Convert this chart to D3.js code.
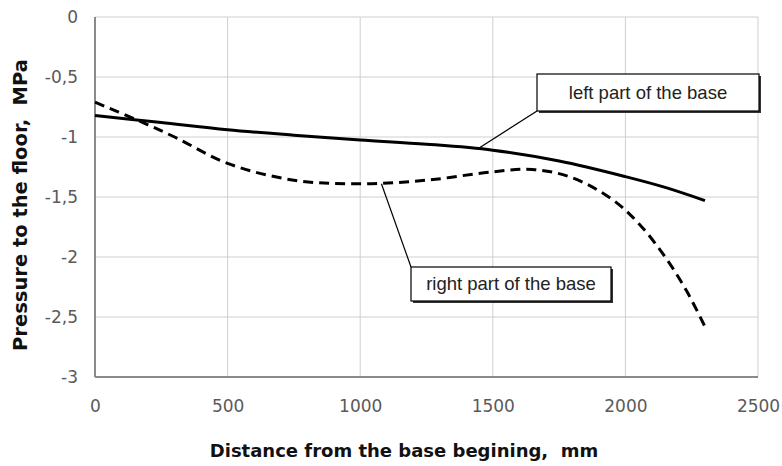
<!DOCTYPE html>
<html><head><meta charset="utf-8">
<script src="https://cdn.jsdelivr.net/npm/d3@7"></script>
<style>body{margin:0;background:#fff}svg{display:block}text{white-space:pre}</style>
</head><body><svg id="c" width="782" height="466"></svg>
<script>
const xTicks = [0, 500, 1000, 1500, 2000, 2500];
const yTicks = [0, -0.5, -1, -1.5, -2, -2.5, -3];
const leftX = [0, 250, 500, 750, 1000, 1250, 1500, 1750, 2000, 2150, 2300];
const leftY = [-0.82, -0.88, -0.94, -0.985, -1.025, -1.06, -1.11, -1.2, -1.33, -1.42, -1.53];
const rightX = [0, 150, 300, 500, 750, 1000, 1250, 1500, 1650, 1800, 1950, 2050, 2150, 2230, 2300];
const rightY = [-0.71, -0.85, -1.0, -1.22, -1.36, -1.39, -1.36, -1.29, -1.27, -1.34, -1.52, -1.72, -2.0, -2.28, -2.58];
const labelLeft = "left part of the base";
const labelRight = "right part of the base";
const xTitle = "Distance from the base begining,  mm";
const yTitle = "Pressure to the floor,  MPa";
const fmt = v => String(v).replace('.', ',');

const svg = d3.select('#c');
const x = d3.scaleLinear().domain([0, 2500]).range([95, 758]);
const y = d3.scaleLinear().domain([-3, 0]).range([377, 17]);

// grid
svg.append('g').selectAll('line').data(xTicks).join('line')
  .attr('x1', d => x(d)).attr('x2', d => x(d)).attr('y1', y(0)).attr('y2', y(-3))
  .attr('stroke', '#cfcfcf').attr('stroke-width', 1);
svg.append('g').selectAll('line').data(yTicks).join('line')
  .attr('x1', x(0)).attr('x2', x(2500)).attr('y1', d => y(d)).attr('y2', d => y(d))
  .attr('stroke', '#cfcfcf').attr('stroke-width', 1);

// axes lines
svg.append('line').attr('x1', x(0)).attr('x2', x(0)).attr('y1', y(0)).attr('y2', y(-3))
  .attr('stroke', '#8a8a8a').attr('stroke-width', 2);
svg.append('line').attr('x1', x(0)).attr('x2', x(2500)).attr('y1', y(-3)).attr('y2', y(-3))
  .attr('stroke', '#8a8a8a').attr('stroke-width', 2);

// axis tick labels via d3 axes
const xa = svg.append('g').attr('transform', `translate(0,${y(-3)})`)
  .call(d3.axisBottom(x).tickValues(xTicks).tickSize(0).tickPadding(23).tickFormat(d => d));
const ya = svg.append('g').attr('transform', `translate(${x(0)},0)`)
  .call(d3.axisLeft(y).tickValues(yTicks).tickSize(0).tickPadding(17).tickFormat(fmt));
[xa, ya].forEach(a => {
  a.select('.domain').remove();
  a.selectAll('text').attr('fill', '#5a5a5a').style('font-family', 'DejaVu Sans, sans-serif').style('font-size', '17px');
});

// lines
const line = d3.line().curve(d3.curveCatmullRom.alpha(0.5)).x(d => x(d[0])).y(d => y(d[1]));
svg.append('path').datum(leftX.map((v, i) => [v, leftY[i]])).attr('d', line)
  .attr('fill', 'none').attr('stroke', '#000').attr('stroke-width', 3);
svg.append('path').datum(rightX.map((v, i) => [v, rightY[i]])).attr('d', line)
  .attr('fill', 'none').attr('stroke', '#000').attr('stroke-width', 3).attr('stroke-dasharray', '10,6');

// callouts
function callout(px, py, bx, by, bw, bh, ax, ay, text) {
  svg.append('line').attr('x1', x(px)).attr('y1', y(py)).attr('x2', ax).attr('y2', ay)
    .attr('stroke', '#000').attr('stroke-width', 1.2);
  svg.append('rect').attr('x', bx + 2).attr('y', by + 2).attr('width', bw).attr('height', bh).attr('fill', '#333');
  svg.append('rect').attr('x', bx).attr('y', by).attr('width', bw).attr('height', bh)
    .attr('fill', '#fff').attr('stroke', '#000').attr('stroke-width', 1.2);
  svg.append('text').attr('x', bx + bw / 2).attr('y', by + bh / 2 + 6).attr('text-anchor', 'middle')
    .style('font-family', 'Liberation Sans, Arial, sans-serif').style('font-size', '18.5px').attr('fill', '#222')
    .text(text);
}
callout(1450, -1.09, 537, 74, 222, 37, 537, 111, labelLeft);
callout(1080, -1.39, 411, 267, 200, 34, 411, 267, labelRight);

// titles
svg.append('text').attr('x', 404).attr('y', 457).attr('text-anchor', 'middle')
  .style('font-family', 'DejaVu Sans, sans-serif').style('font-weight', 'bold').style('font-size', '18px')
  .attr('fill', '#111').text(xTitle);
svg.append('text').attr('transform', 'translate(27,205) rotate(-90)').attr('text-anchor', 'middle')
  .style('font-family', 'DejaVu Sans, sans-serif').style('font-weight', 'bold').style('font-size', '19.5px')
  .attr('fill', '#111').text(yTitle);
</script></body></html>
